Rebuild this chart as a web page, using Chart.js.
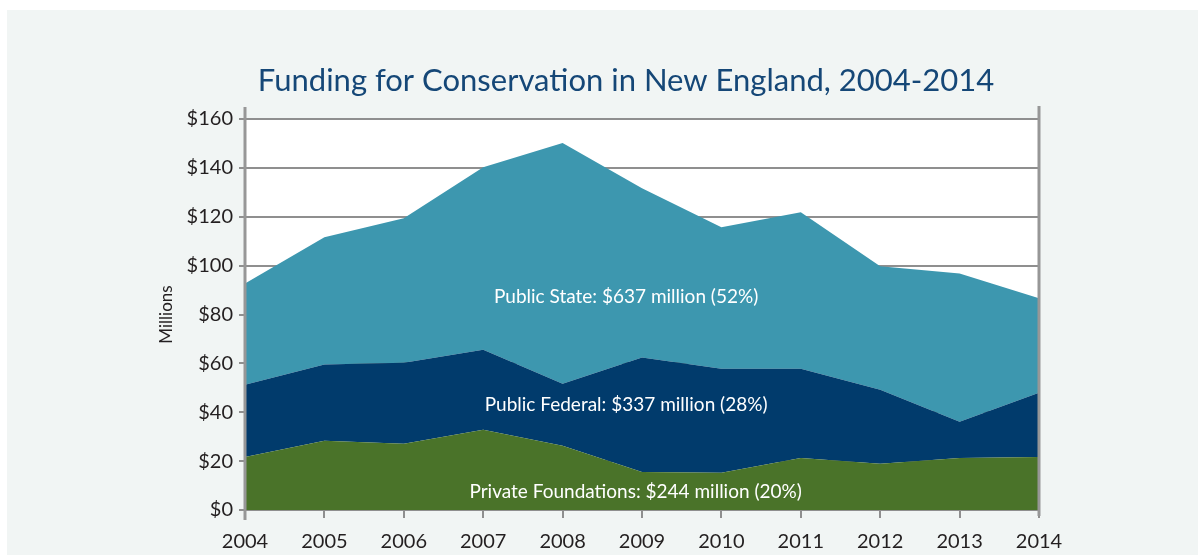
<!DOCTYPE html>
<html>
<head>
<meta charset="utf-8">
<script src="https://cdn.jsdelivr.net/npm/chart.js@4"></script>
<style>
  html, body { margin: 0; padding: 0; background: #fff; overflow: hidden; }
  #wrap { position: absolute; left: 7px; top: 10px; width: 1191px; height: 545px; overflow: hidden; background: #f1f5f4; }
</style>
</head>
<body>
<div id="wrap"><canvas id="chart" width="1191" height="560"></canvas></div>
<script>
const years = ['2004', '2005', '2006', '2007', '2008', '2009', '2010', '2011', '2012', '2013', '2014'];
// millions of dollars per year, stacked bottom to top
const privateFoundations = [21.7, 28.3, 27.1, 32.8, 26.3, 15.6, 15.2, 21.3, 18.9, 21.3, 21.7];
const publicFederal = [29.6, 31.2, 33.2, 32.8, 25.4, 46.8, 42.6, 36.5, 30.3, 14.8, 26.3];
const publicState = [41.4, 52.1, 59.1, 74.7, 98.5, 69.3, 57.9, 64.0, 50.5, 60.7, 38.6];
const yTicks = [0, 20, 40, 60, 80, 100, 120, 140, 160];
const seriesNames = ['Private Foundations', 'Public Federal', 'Public State'];
const areaLabels = ['Private Foundations: $244 million (20%)', 'Public Federal: $337 million (28%)', 'Public State: $637 million (52%)'];
const chartTitle = 'Funding for Conservation in New England, 2004-2014';

const font = 'Lato, "Open Sans", sans-serif';

const frame = {
  id: 'frame',
  beforeDraw(chart) {
    const {ctx, chartArea: a} = chart;
    ctx.save();
    ctx.fillStyle = '#ffffff';
    ctx.fillRect(a.left, a.top, a.right - a.left, a.bottom - a.top);
    // title
    ctx.fillStyle = '#154777';
    ctx.font = '31px ' + font;
    ctx.textAlign = 'center';
    ctx.textBaseline = 'middle';
    ctx.fillText(chartTitle, 619, 71);
    ctx.restore();
  },
  afterDatasetsDraw(chart) {
    const {ctx, chartArea: a, scales} = chart;
    ctx.save();
    ctx.strokeStyle = '#979797';
    ctx.lineWidth = 3;
    ctx.beginPath();
    ctx.moveTo(a.left, a.top - 12);
    ctx.lineTo(a.left, a.bottom + 10);
    ctx.moveTo(a.right, a.top - 13);
    ctx.lineTo(a.right, a.bottom + 6);
    ctx.stroke();

    const xAt = i => {
      const lo = Math.floor(i);
      const p0 = scales.x.getPixelForValue(lo);
      const p1 = scales.x.getPixelForValue(lo + 1);
      return p0 + (p1 - p0) * (i - lo);
    };
    ctx.fillStyle = '#ffffff';
    ctx.font = '19px ' + font;
    ctx.textAlign = 'center';
    ctx.textBaseline = 'middle';
    ctx.fillText(areaLabels[2], xAt(4.8), scales.y.getPixelForValue(87.4));
    ctx.fillText(areaLabels[1], xAt(4.8), scales.y.getPixelForValue(43.1));
    ctx.fillText(areaLabels[0], xAt(4.92), scales.y.getPixelForValue(7.4));
    ctx.restore();
  }
};

const ctx = document.getElementById('chart').getContext('2d');
new Chart(ctx, {
  type: 'line',
  data: {
    labels: years,
    datasets: [
      { label: seriesNames[0], data: privateFoundations, backgroundColor: '#4a7329', fill: 'origin' },
      { label: seriesNames[1], data: publicFederal, backgroundColor: '#013b6c', fill: '-1' },
      { label: seriesNames[2], data: publicState, backgroundColor: '#3d97af', fill: '-1' }
    ]
  },
  options: {
    responsive: false,
    animation: false,
    elements: {
      point: { radius: 0 },
      line: { borderWidth: 0, tension: 0 }
    },
    layout: { padding: { left: 145, right: 159, top: 109, bottom: 4 } },
    plugins: {
      legend: { display: false },
      tooltip: { enabled: false }
    },
    scales: {
      x: {
        offset: false,
        border: { display: false },
        grid: { drawOnChartArea: false, drawTicks: true, tickLength: 8, color: '#8f8f8f', lineWidth: 2 },
        ticks: { color: '#231f20', font: { family: font, size: 20 }, padding: 12, maxRotation: 0, autoSkip: false }
      },
      y: {
        stacked: true,
        min: 0,
        max: 160,
        afterBuildTicks: scale => { scale.ticks = yTicks.map(v => ({ value: v })); },
        afterFit: scale => { scale.width = 93; },
        border: { display: false },
        grid: { color: '#8f8f8f', lineWidth: 2, tickLength: 6 },
        ticks: { color: '#231f20', font: { family: font, size: 20 }, padding: 6, callback: v => '$' + v },
        title: { display: true, text: 'Millions', color: '#231f20', font: { family: font, size: 17 }, padding: 4 }
      }
    }
  },
  plugins: [frame]
});
</script>
</body>
</html>
